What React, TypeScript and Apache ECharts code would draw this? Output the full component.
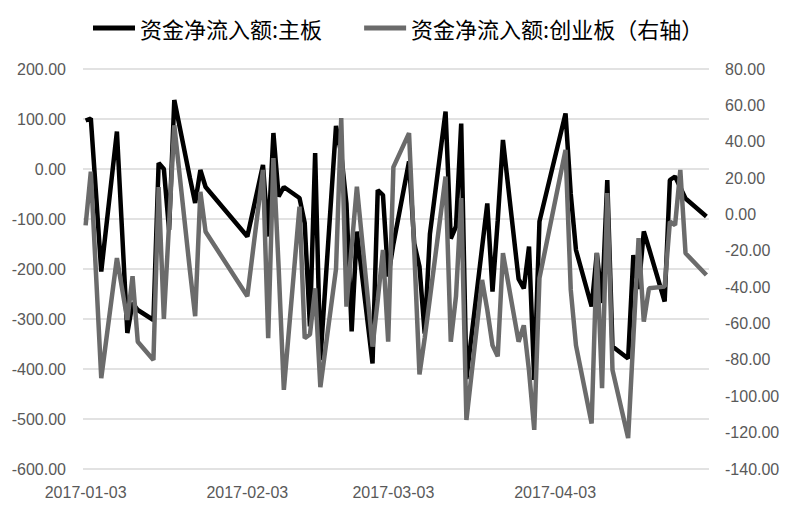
import React, { useEffect, useRef } from 'react';
import * as echarts from 'echarts';

const dates = [
  '2017-01-03', '2017-01-04', '2017-01-05', '2017-01-06', '2017-01-09', '2017-01-10', '2017-01-11', '2017-01-12',
  '2017-01-13', '2017-01-16', '2017-01-17', '2017-01-18', '2017-01-19', '2017-01-20', '2017-01-23', '2017-01-24',
  '2017-01-25', '2017-01-26',
  '2017-02-03', '2017-02-06', '2017-02-07', '2017-02-08', '2017-02-09', '2017-02-10', '2017-02-13', '2017-02-14',
  '2017-02-15', '2017-02-16', '2017-02-17', '2017-02-20', '2017-02-21', '2017-02-22', '2017-02-23', '2017-02-24',
  '2017-02-27', '2017-02-28',
  '2017-03-01', '2017-03-02', '2017-03-03', '2017-03-06', '2017-03-07', '2017-03-08', '2017-03-09', '2017-03-10',
  '2017-03-13', '2017-03-14', '2017-03-15', '2017-03-16', '2017-03-17', '2017-03-20', '2017-03-21', '2017-03-22',
  '2017-03-23', '2017-03-24', '2017-03-27', '2017-03-28', '2017-03-29', '2017-03-30', '2017-03-31',
  '2017-04-05', '2017-04-06', '2017-04-07', '2017-04-10', '2017-04-11', '2017-04-12', '2017-04-13', '2017-04-14',
  '2017-04-17', '2017-04-18', '2017-04-19', '2017-04-20', '2017-04-21', '2017-04-24', '2017-04-25', '2017-04-26',
  '2017-04-27', '2017-04-28',
  '2017-05-02',
];

// 资金净流入额:主板 (left axis)
const mainBoard = [
  97, 101, -50, -205, 75, -126, -328, -268,
  -282, -302, 12, 0, -122, 138, -18, -68,
  -2, -36,
  -135, 8, -135, 72, -55, -36, -58, -108,
  -315, 32, -382, 86, 30, -69, -325, -125,
  -389, -42,
  -52, -215, -150, 15, -149, -195, -329, -130,
  115, -139, -115, 91, -420, -157, -69, -245,
  -103, 58, -220, -239, -155, -422, -105,
  111, -50, -162, -275, -168, -268, -22, -355,
  -379, -172, -240, -125, -159, -265, -22, -15,
  -37, -59,
  -95,
];

// 资金净流入额:创业板 (right axis)
const chinext = [
  -6, 23.5, -33, -90, -24, -41, -58, -34,
  -70, -80, 15, -57.5, -5, 49, -31, -56,
  12.5, -9.5,
  -45, 24.5, -68, 31, -29, -96.5, 4.3, -68,
  -66, -40.6, -95, -30, 53, -50.7, -17.7, 15.3,
  -72.7, -47,
  -19.5, -70, 26, 44.7, -20, -88, -68, -46,
  20.8, -70, -45, 9, -113, -36, -52.5, -72,
  -78, -21.3, -70, -61, -86, -118.5, -35,
  35.5, -41.5, -72, -115, -21.3, -95.6, 11.7, -85.5,
  -123, -68, -13, -59, -40.6, -39.7, -4, -5.8,
  24.5, -21.3,
  -33.3,
];

const xTickDates = ['2017-01-03', '2017-02-03', '2017-03-03', '2017-04-03'];
const seriesNames = ['资金净流入额:主板', '资金净流入额:创业板（右轴）'];

// dates are placed on a day scale counted from the first date
const DAY = 24 * 3600 * 1000;
const utc = (s: string) => {
  const [y, m, d] = s.split('-').map(Number);
  return Date.UTC(y, m - 1, d);
};
const origin = utc(dates[0]);
const toDay = (s: string) => Math.round((utc(s) - origin) / DAY);
const pad = (n: number) => (n < 10 ? '0' + n : '' + n);
const dayLabel = (v: number) => {
  const d = new Date(origin + Math.round(v) * DAY);
  return `${d.getUTCFullYear()}-${pad(d.getUTCMonth() + 1)}-${pad(d.getUTCDate())}`;
};

const labelFont = { fontFamily: 'Liberation Sans, Arial, sans-serif', fontSize: 16, color: '#595959' };

const App: React.FC = () => {
  const chartRef = useRef<HTMLDivElement>(null);

  useEffect(() => {
    if (!chartRef.current) return;
    const myChart = echarts.init(chartRef.current, null, { renderer: 'svg' });
    const option = {
      animation: false,
      backgroundColor: '#fff',
      legend: {
        left: 88,
        top: 12,
        icon: 'rect',
        itemWidth: 42,
        itemHeight: 5,
        itemGap: 42,
        textStyle: { fontFamily: 'Noto Sans CJK SC', fontSize: 22, color: '#000' },
        data: seriesNames,
      },
      grid: { left: 83, right: 78, top: 69, bottom: 45 },
      xAxis: {
        type: 'value',
        min: -0.5,
        max: toDay(dates[dates.length - 1]) + 0.5,
        axisLine: { show: false },
        axisTick: { show: false },
        splitLine: { show: false },
        axisLabel: {
          ...labelFont,
          margin: 15,
          customValues: xTickDates.map(toDay),
          formatter: (v: number) => dayLabel(v),
        },
      },
      yAxis: [
        {
          type: 'value',
          min: -600,
          max: 200,
          interval: 100,
          axisLine: { show: false },
          axisTick: { show: false },
          splitLine: { lineStyle: { color: '#d9d9d9', width: 1.5 } },
          axisLabel: { ...labelFont, margin: 17, formatter: (v: number) => v.toFixed(2) },
        },
        {
          type: 'value',
          min: -140,
          max: 80,
          interval: 20,
          axisLine: { show: false },
          axisTick: { show: false },
          splitLine: { show: false },
          axisLabel: { ...labelFont, margin: 16, formatter: (v: number) => v.toFixed(2) },
        },
      ],
      series: [
        {
          name: seriesNames[0],
          type: 'line',
          yAxisIndex: 0,
          z: 3,
          showSymbol: false,
          symbol: 'none',
          lineStyle: { color: '#000', width: 4.5 },
          itemStyle: { color: '#000' },
          data: dates.map((d, i) => [toDay(d), mainBoard[i]]),
        },
        {
          name: seriesNames[1],
          type: 'line',
          yAxisIndex: 1,
          z: 4,
          showSymbol: false,
          symbol: 'none',
          lineStyle: { color: '#6b6b6b', width: 4.5 },
          itemStyle: { color: '#6b6b6b' },
          data: dates.map((d, i) => [toDay(d), chinext[i]]),
        },
      ],
    };
    myChart.setOption(option);
    return () => { myChart.dispose(); };
  }, []);

  return <div ref={chartRef} style={{ position: 'absolute', left: 0, top: 0, width: 787, height: 514 }} />;
};

export default App;
